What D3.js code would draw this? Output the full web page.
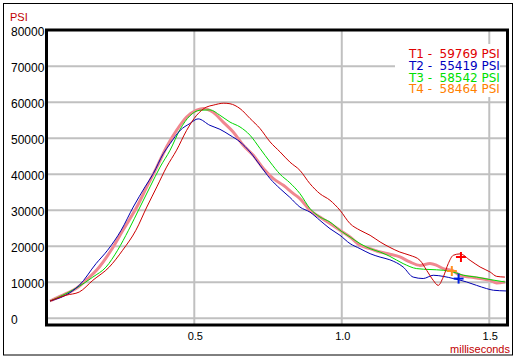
<!DOCTYPE html>
<html>
<head>
<meta charset="utf-8">
<script src="https://cdn.jsdelivr.net/npm/d3@7"></script>
<style>
  body { margin: 0; background: #fff; }
  text { font-family: "Liberation Sans", Arial, sans-serif; }
</style>
</head>
<body>
<div id="chart"></div>
<script>
// pressure traces, [milliseconds, PSI]
var t1Data = [[0.011,4800],[0.065,6400],[0.110,7300],[0.156,10550],[0.212,14250],[0.257,18900],[0.302,24450],[0.339,30900],[0.373,36500],[0.406,42000],[0.440,46700],[0.474,52200],[0.508,56400],[0.542,58700],[0.564,59200],[0.600,59750],[0.621,59600],[0.655,58250],[0.689,55500],[0.723,52700],[0.757,49000],[0.791,46200],[0.824,43400],[0.858,41100],[0.892,37400],[0.926,34600],[0.960,32800],[0.994,30000],[1.028,26300],[1.062,24450],[1.096,23050],[1.130,21200],[1.163,19700],[1.197,18400],[1.231,17500],[1.265,16100],[1.288,13300],[1.310,10550],[1.327,9150],[1.344,11450],[1.361,15200],[1.378,17500],[1.401,17900],[1.435,16100],[1.469,14250],[1.503,12850],[1.525,11650],[1.553,11450]];
var t2Data = [[0.011,4800],[0.082,7300],[0.110,9150],[0.167,15200],[0.206,18900],[0.252,24450],[0.293,30900],[0.333,36500],[0.361,40200],[0.395,45750],[0.418,48500],[0.452,52200],[0.485,54100],[0.513,55400],[0.553,53600],[0.587,52500],[0.621,50850],[0.655,49000],[0.689,46200],[0.723,42500],[0.757,38800],[0.791,36000],[0.824,33600],[0.858,30900],[0.892,29500],[0.926,27200],[0.960,24900],[0.994,23050],[1.028,20750],[1.062,19350],[1.096,17950],[1.130,17000],[1.163,16250],[1.208,14250],[1.242,11450],[1.276,11050],[1.310,11950],[1.344,11650],[1.378,11050],[1.423,10100],[1.457,9150],[1.491,8250],[1.514,7800],[1.557,7600]];
var t3Data = [[0.011,4800],[0.065,6850],[0.110,8900],[0.156,11450],[0.201,14250],[0.240,18900],[0.277,24450],[0.316,30900],[0.350,36500],[0.384,42000],[0.418,46700],[0.452,52500],[0.485,56250],[0.519,57800],[0.553,57900],[0.587,56400],[0.621,54500],[0.655,53150],[0.689,50850],[0.723,47150],[0.757,43400],[0.791,40000],[0.824,37650],[0.858,34650],[0.892,30500],[0.926,28150],[0.960,26750],[0.994,24450],[1.028,22600],[1.062,20750],[1.096,19350],[1.130,18400],[1.163,17200],[1.208,15200],[1.254,13800],[1.299,13550],[1.344,13350],[1.378,12850],[1.412,11950],[1.457,11450],[1.503,10750],[1.553,10100]];
var t4Data = [[0.011,4800],[0.065,6850],[0.099,8250],[0.133,10550],[0.178,14250],[0.218,18900],[0.258,24450],[0.305,30900],[0.339,36500],[0.373,42000],[0.406,47600],[0.440,52200],[0.474,55900],[0.508,57800],[0.531,58300],[0.564,57200],[0.598,54500],[0.632,51750],[0.666,48050],[0.700,45300],[0.734,41600],[0.768,38800],[0.802,36950],[0.836,34650],[0.858,33250],[0.892,30000],[0.926,28150],[0.960,26300],[0.994,24450],[1.028,22600],[1.062,20300],[1.096,19350],[1.130,18400],[1.163,17800],[1.197,17050],[1.231,15650],[1.265,14700],[1.299,15200],[1.322,14700],[1.344,13800],[1.373,13350],[1.401,11950],[1.435,11450],[1.469,11050],[1.503,10550],[1.525,9800],[1.553,10100]];

// cursor marks (T1, T2, T4)
var markT1 = [1.404, 17030];
var markT2 = [1.396, 11030];
var markT4 = [1.373, 13140];

var seriesNames = ["T1", "T2", "T3", "T4"];
var peakValues = [59769, 55419, 58542, 58464];
var yTicks = [0, 10000, 20000, 30000, 40000, 50000, 60000, 70000, 80000];
var xTicks = [0.5, 1.0, 1.5];

var svg = d3.select("#chart").append("svg")
  .attr("width", 518)
  .attr("height", 359);

var plotLeft = 46.8, plotRight = 508, plotTop = 30.3, zeroY = 318.3, plotBottom = 325;

var x = d3.scaleLinear().domain([0, 1.5635]).range([plotLeft, plotRight]);
var y = d3.scaleLinear().domain([0, 80000]).range([zeroY, plotTop]);

// outer frame
svg.append("rect")
  .attr("x", 3.5).attr("y", 3.5)
  .attr("width", 509).attr("height", 351.5)
  .attr("fill", "none").attr("stroke", "#000");

// grid
svg.selectAll(".hgrid")
  .data(yTicks.filter(d => d < 80000))
  .enter().append("line")
  .attr("x1", 46).attr("x2", 508)
  .attr("y1", d => y(d)).attr("y2", d => y(d))
  .attr("stroke", "#c0c0c0").attr("stroke-width", 2);

svg.selectAll(".vgrid")
  .data(xTicks)
  .enter().append("line")
  .attr("x1", d => x(d)).attr("x2", d => x(d))
  .attr("y1", 30).attr("y2", plotBottom)
  .attr("stroke", "#c0c0c0").attr("stroke-width", 2);

// y labels, left aligned
svg.selectAll(".ylab")
  .data(yTicks)
  .enter().append("text")
  .attr("x", 11)
  .attr("y", d => y(d) + 5.5)
  .attr("font-size", 12)
  .style("font-family", "'Liberation Sans Narrow', 'Arial Narrow', sans-serif")
  .attr("fill", "#000")
  .text(d => d);

svg.selectAll(".xlab")
  .data(xTicks)
  .enter().append("text")
  .attr("x", d => x(d) + 1)
  .attr("y", 340)
  .attr("text-anchor", "middle")
  .attr("font-size", 11)
  .attr("fill", "#000")
  .text(d => d.toFixed(1));

svg.append("text")
  .attr("x", 10).attr("y", 21)
  .attr("font-size", 11)
  .attr("fill", "#c00000")
  .text("PSI");

svg.append("text")
  .attr("x", 510).attr("y", 353)
  .attr("text-anchor", "end")
  .attr("font-size", 11)
  .attr("fill", "#c00000")
  .text("milliseconds");

// traces
var line = d3.line()
  .x(d => x(d[0]))
  .y(d => y(d[1]))
  .curve(d3.curveMonotoneX);

svg.append("path").datum(t4Data)
  .attr("d", line).attr("fill", "none")
  .attr("stroke", "#f08890").attr("stroke-width", 3);
svg.append("path").datum(t3Data)
  .attr("d", line).attr("fill", "none")
  .attr("stroke", "#00d800").attr("stroke-width", 1);
svg.append("path").datum(t2Data)
  .attr("d", line).attr("fill", "none")
  .attr("stroke", "#0000b0").attr("stroke-width", 1);
svg.append("path").datum(t1Data)
  .attr("d", line).attr("fill", "none")
  .attr("stroke", "#cc0000").attr("stroke-width", 1);

// plot frame
svg.append("rect")
  .attr("x", 46.5).attr("y", 30)
  .attr("width", 461).attr("height", 295)
  .attr("fill", "none").attr("stroke", "#000").attr("stroke-width", 3);

// cursor crosses
function cross(p, color) {
  var cx = x(p[0]), cy = y(p[1]);
  var g = svg.append("g").attr("stroke", color).attr("stroke-width", 2);
  g.append("line").attr("x1", cx - 5).attr("x2", cx + 5).attr("y1", cy).attr("y2", cy);
  g.append("line").attr("x1", cx).attr("x2", cx).attr("y1", cy - 5).attr("y2", cy + 5);
}
cross(markT4, "#ff9020");
cross(markT1, "#ff0000");
cross(markT2, "#0020e0");

// legend
var legendColors = ["#e00000", "#0000c0", "#00e000", "#ff8000"];
svg.append("rect")
  .attr("x", 395).attr("y", 44)
  .attr("width", 105).attr("height", 53)
  .attr("fill", "#fff");

var leg = svg.selectAll(".leg")
  .data(seriesNames)
  .enter().append("g")
  .attr("transform", (d, i) => "translate(0," + (58.3 + i * 11.7) + ")");

leg.append("text")
  .attr("x", 409)
  .attr("font-size", 12)
  .style("font-family", "'DejaVu Sans', sans-serif")
  .attr("fill", (d, i) => legendColors[i])
  .text(d => d + " -");

leg.append("text")
  .attr("x", 439.5)
  .attr("font-size", 12)
  .style("font-family", "'DejaVu Sans', sans-serif")
  .attr("fill", (d, i) => legendColors[i])
  .text((d, i) => peakValues[i] + " PSI");
</script>
</body>
</html>
